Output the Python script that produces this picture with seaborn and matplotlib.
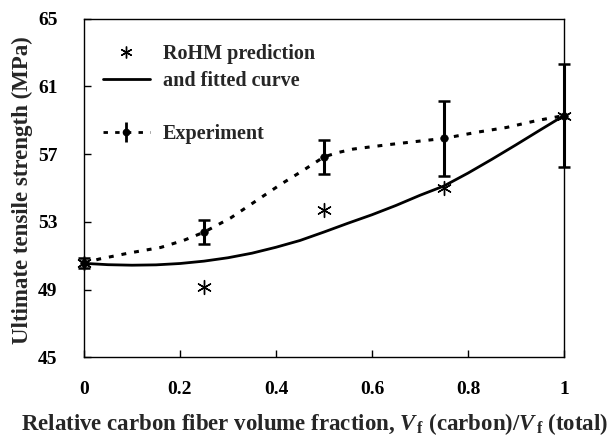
import numpy as np
import pandas as pd
import matplotlib
matplotlib.use("Agg")
import matplotlib.pyplot as plt
from matplotlib.lines import Line2D
import seaborn as sns

# ---- data ----
x_pts = [0.0, 0.25, 0.5, 0.75, 1.0]
rohm_pred = [50.55, 49.14, 53.69, 55.02, 59.28]
exp_mean = [50.55, 52.39, 56.84, 57.93, 59.28]
exp_err = [0.3, 0.72, 1.0, 2.2, 3.05]

fit_x = [0.0, 0.05, 0.1, 0.15, 0.2, 0.25, 0.3, 0.35, 0.4, 0.45, 0.5,
         0.55, 0.6, 0.65, 0.7, 0.75, 0.8, 0.85, 0.9, 0.95, 1.0]
fit_y = [50.55, 50.47, 50.44, 50.46, 50.54, 50.68, 50.88, 51.15, 51.50, 51.90, 52.40,
         52.92, 53.42, 53.97, 54.57, 55.12, 55.88, 56.70, 57.55, 58.42, 59.28]

exp_curve_x = [0.0, 0.031, 0.094, 0.16, 0.208, 0.25, 0.306, 0.358, 0.41, 0.455, 0.5,
               0.53, 0.561, 0.631, 0.693, 0.75, 0.818, 0.881, 0.943, 1.0]
exp_curve_y = [50.55, 50.80, 51.16, 51.49, 51.91, 52.39, 53.24, 54.23, 55.22, 56.01, 56.84,
               57.10, 57.30, 57.55, 57.75, 57.93, 58.29, 58.58, 58.98, 59.28]

x_ticks = [0, 0.2, 0.4, 0.6, 0.8, 1]
x_ticklabels = ["0", "0.2", "0.4", "0.6", "0.8", "1"]
y_ticks = [45, 49, 53, 57, 61, 65]

sns.set_style("ticks")
plt.rcParams["font.family"] = ["Liberation Serif", "DejaVu Serif"]
plt.rcParams["font.weight"] = "bold"
plt.rcParams["mathtext.fontset"] = "custom"
plt.rcParams["mathtext.rm"] = "Liberation Serif:bold"
plt.rcParams["mathtext.it"] = "Liberation Serif:italic:bold"
plt.rcParams["mathtext.bf"] = "Liberation Serif:bold"

fig = plt.figure(figsize=(6.15, 4.36), dpi=100)
ax = fig.add_axes([84 / 615, 1 - 357.3 / 436, 480 / 615, 338.6 / 436])

df_fit = pd.DataFrame({"x": fit_x, "y": fit_y})
df_expc = pd.DataFrame({"x": exp_curve_x, "y": exp_curve_y})
df_pts = pd.DataFrame({"x": x_pts, "rohm": rohm_pred, "exp": exp_mean, "err": exp_err})

dot_style = (0, (1.6, 2.6))
sns.lineplot(data=df_fit, x="x", y="y", ax=ax, color="black", lw=2.0, sort=False)
sns.lineplot(data=df_expc, x="x", y="y", ax=ax, color="black", lw=2.2,
             linestyle=dot_style, sort=False)
eb_main = ax.errorbar(df_pts["x"], df_pts["exp"], yerr=df_pts["err"], fmt="none",
                      ecolor="black", elinewidth=2.2, capsize=4, capthick=1.8, zorder=4)
for art in eb_main.lines[1] + eb_main.lines[2]:
    art.set_clip_on(False)
sns.scatterplot(data=df_pts, x="x", y="exp", ax=ax, color="black", s=30,
                marker="o", edgecolor="black", zorder=5, clip_on=False)
sns.scatterplot(data=df_pts, x="x", y="rohm", ax=ax, color="black", s=100,
                marker=(6, 2, 0), linewidth=1.0, zorder=6, clip_on=False)

ax.set_xlim(0, 1)
ax.set_ylim(45, 65)
ax.set_xticks(x_ticks)
ax.set_xticklabels(x_ticklabels)
ax.set_yticks(y_ticks)
for s in ax.spines.values():
    s.set_linewidth(1.0)
    s.set_color("black")
ax.tick_params(axis="both", direction="in", length=5, width=1, labelsize=14,
               colors="black")
ax.tick_params(axis="y", pad=19)
ax.tick_params(axis="x", pad=17)

ax.set_xlabel(r"Relative carbon fiber volume fraction, $\mathit{V}_{\,\mathrm{f}}$ (carbon)/$\mathit{V}_{\,\mathrm{f}}$ (total)",
              fontsize=16.5, fontweight="bold")
ax.set_ylabel("Ultimate tensile strength (MPa)", fontsize=16.5, fontweight="bold")
ax.xaxis.set_label_coords(0.481, -0.158)
ax.yaxis.set_label_coords(-0.106, 0.495)

# legends
h1 = Line2D([], [], marker=(6, 2, 0), ls="none", color="black", ms=8.5, mew=1.0)
h2 = Line2D([], [], color="black", lw=2.0)
leg1 = ax.legend([h1, h2], ["RoHM prediction", "and fitted curve"],
                 loc="upper left", bbox_to_anchor=(0.04, 0.925), frameon=False,
                 prop={"family": "Liberation Serif", "weight": "bold", "size": 14.5},
                 handlelength=2.3, handletextpad=0.65, labelspacing=0.35,
                 borderpad=0, borderaxespad=0)
ax.add_artist(leg1)
eb = ax.errorbar([], [], yerr=[], fmt="o", color="black", ms=4.5, ls=dot_style,
                 lw=2.0, elinewidth=2.0, capsize=4)
ax.legend([eb], ["Experiment"], loc="upper left", bbox_to_anchor=(0.04, 0.69),
          frameon=False,
          prop={"family": "Liberation Serif", "weight": "bold", "size": 14.5},
          handlelength=2.3, handletextpad=0.65, borderpad=0, borderaxespad=0)

fig.savefig("out.png", dpi=100)
